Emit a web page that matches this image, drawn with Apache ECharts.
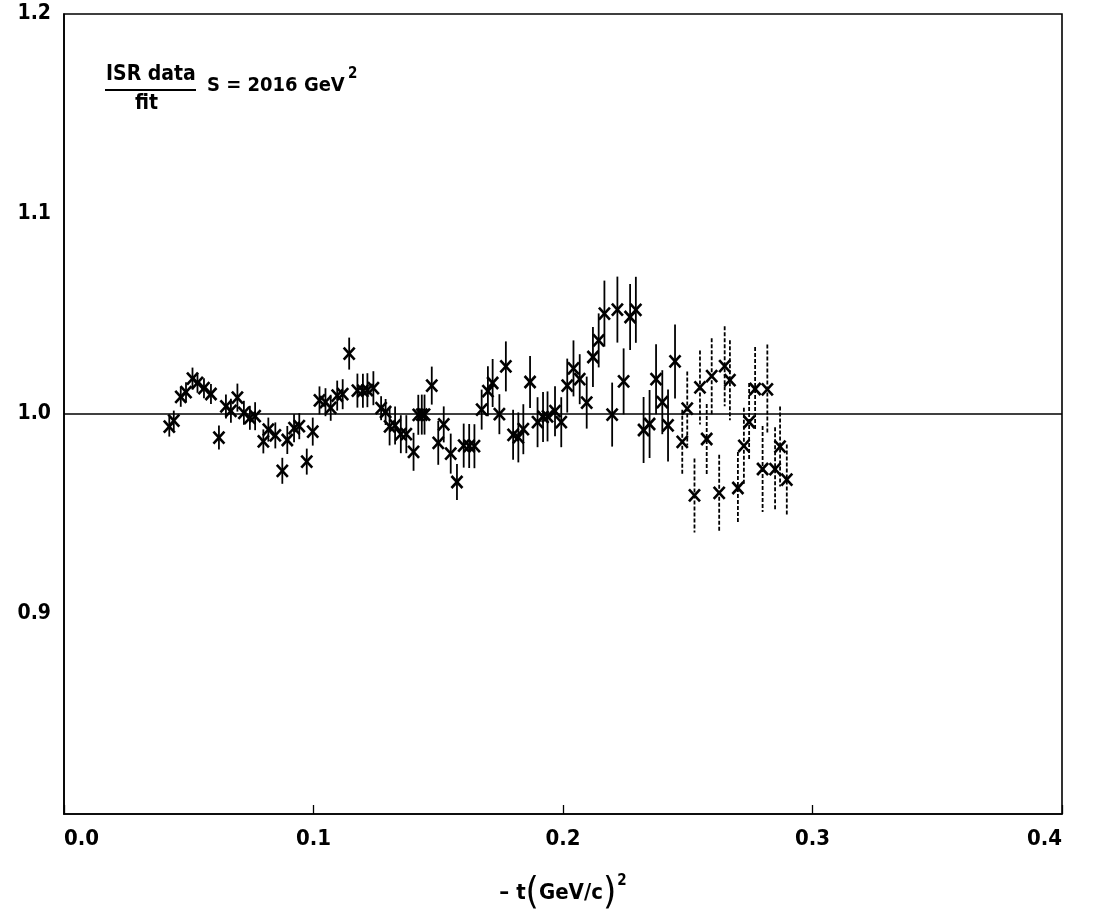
<!DOCTYPE html>
<html><head><meta charset="utf-8">
<script src="https://cdn.jsdelivr.net/npm/echarts@6/dist/echarts.min.js"></script>
<style>html,body{margin:0;padding:0;background:#fff}#c{width:1094px;height:915px}</style>
</head><body><div id="c"></div>
<script>
// -t (GeV/c)^2
const tValues = [
 0.0422,0.0440,0.0468,0.0489,0.0515,0.0535,0.0561,0.0589,0.0621,0.0649,
 0.0669,0.0695,0.0721,0.0745,0.0766,0.0799,0.0819,0.0847,0.0875,0.0895,
 0.0922,0.0943,0.0973,0.0997,0.1024,0.1048,0.1069,0.1095,0.1117,0.1143,
 0.1176,0.1198,0.1216,0.1240,0.1271,0.1289,0.1305,0.1327,0.1350,0.1372,
 0.1401,0.1420,0.1434,0.1445,0.1474,0.1500,0.1522,0.1550,0.1575,0.1602,
 0.1624,0.1645,0.1674,0.1699,0.1718,0.1745,0.1771,0.1800,0.1821,0.1841,
 0.1868,0.1898,0.1920,0.1938,0.1968,0.1993,0.2017,0.2042,0.2067,0.2095,
 0.2120,0.2143,0.2166,0.2197,0.2218,0.2243,0.2269,0.2292,0.2323,0.2347,
 0.2373,0.2398,0.2421,0.2449,0.2478,0.2498,0.2527,0.2549,0.2576,0.2596,
 0.2626,0.2648,0.2669,0.2701,0.2725,0.2746,0.2770,0.2800,0.2819,0.2850,
 0.2870,0.2897
];
// ISR data / fit
const ratioValues = [
 0.9937,0.9967,1.0086,1.0109,1.0177,1.0156,1.0129,1.0100,0.9882,1.0038,
 1.0016,1.0082,1.0006,0.9981,0.9989,0.9863,0.9922,0.9893,0.9716,0.9870,
 0.9929,0.9939,0.9762,0.9912,1.0068,1.0059,1.0031,1.0092,1.0099,1.0302,
 1.0117,1.0116,1.0119,1.0129,1.0029,1.0010,0.9938,0.9943,0.9899,0.9899,
 0.9811,0.9996,0.9997,0.9997,1.0142,0.9856,0.9948,0.9802,0.9660,0.9842,
 0.9840,0.9839,1.0022,1.0114,1.0155,0.9999,1.0238,0.9896,0.9883,0.9924,
 1.0160,0.9959,0.9985,0.9988,1.0014,0.9959,1.0142,1.0228,1.0174,1.0057,
 1.0285,1.0368,1.0502,0.9997,1.0522,1.0163,1.0485,1.0521,0.9920,0.9950,
 1.0174,1.0059,0.9943,1.0263,0.9861,1.0027,0.9593,1.0133,0.9875,1.0189,
 0.9606,1.0239,1.0169,0.9630,0.9841,0.9960,1.0125,0.9725,1.0123,0.9724,
 0.9837,0.9672
];
// half-length of error bars
const errorValues = [
 0.005,0.005,0.005,0.005,0.0055,0.005,0.005,0.005,0.006,0.006,
 0.006,0.007,0.006,0.006,0.007,0.006,0.006,0.0065,0.0065,0.007,
 0.007,0.0065,0.0065,0.007,0.007,0.007,0.0065,0.0075,0.0075,0.008,
 0.0085,0.0085,0.0085,0.0085,0.006,0.0065,0.0095,0.0095,0.0095,0.0095,
 0.0095,0.010,0.010,0.010,0.0095,0.011,0.009,0.010,0.009,0.011,
 0.011,0.011,0.010,0.0125,0.012,0.010,0.0125,0.0125,0.0125,0.0125,
 0.013,0.0125,0.0125,0.0125,0.0125,0.0125,0.0135,0.014,0.0125,0.013,
 0.015,0.0135,0.0165,0.016,0.0165,0.0165,0.0165,0.0165,0.0165,0.017,
 0.0175,0.016,0.018,0.0185,0.016,0.0185,0.0185,0.0185,0.0175,0.019,
 0.019,0.020,0.020,0.018,0.019,0.0195,0.021,0.0215,0.0225,0.021,
 0.020,0.0175
];
const fitT = [0.0, 0.4];
const fitRatio = [1.0, 1.0];
const xTickLabels = ['0.0','0.1','0.2','0.3','0.4'];
const yTickLabels = {'0.9':'0.9','1.0':'1.0','1.1':'1.1','1.2':'1.2'};

const pointData = tValues.map((t, i) => [t, ratioValues[i], errorValues[i]]);
const fitData = fitT.map((t, i) => [t, fitRatio[i]]);

const FONT = '"DejaVu Sans Condensed", "Liberation Sans", Arial, sans-serif';

function renderPoint(params, api) {
  const x = api.value(0), y = api.value(1), e = api.value(2);
  const c = api.coord([x, y]);
  const top = api.coord([x, y + e]);
  const bot = api.coord([x, y - e]);
  const sx = 5.5, sy = 6;
  const dashed = x > 0.245;
  return {
    type: 'group',
    children: [
      {type: 'line', shape: {x1: c[0], y1: top[1], x2: c[0], y2: bot[1]},
       style: {stroke: '#000', lineWidth: 1.8, lineDash: dashed ? [4, 2] : null}},
      {type: 'line', shape: {x1: c[0] - sx, y1: c[1] - sy, x2: c[0] + sx, y2: c[1] + sy},
       style: {stroke: '#000', lineWidth: 2.6}},
      {type: 'line', shape: {x1: c[0] - sx, y1: c[1] + sy, x2: c[0] + sx, y2: c[1] - sy},
       style: {stroke: '#000', lineWidth: 2.6}}
    ]
  };
}

const chart = echarts.init(document.getElementById('c'), null, {renderer: 'canvas'});
chart.setOption({
  backgroundColor: '#fff',
  animation: false,
  grid: {left: 64, right: 32, top: 14, bottom: 101, show: true, borderColor: '#000', borderWidth: 1.6,
         containLabel: false, outerBoundsMode: 'none'},
  xAxis: {
    type: 'value', min: 0, max: 0.4, interval: 0.1,
    axisLine: {show: true, lineStyle: {color: '#000', width: 1.6}},
    axisTick: {show: true, inside: true, length: 9, lineStyle: {color: '#000', width: 1.3}},
    splitLine: {show: false},
    axisLabel: {
      color: '#000', fontFamily: FONT, fontWeight: 'bold', fontSize: 22, margin: 14,
      alignMinLabel: 'left', alignMaxLabel: 'right',
      formatter: v => xTickLabels[Math.round(v * 10)] || ''
    },
    name: '{a|– t}{p|(}{a|GeV/c}{p|)}{s|2}',
    nameLocation: 'middle', nameGap: 60,
    nameTextStyle: {
      rich: {
        a: {fontFamily: FONT, fontWeight: 'bold', fontSize: 22, color: '#000'},
        p: {fontFamily: FONT, fontWeight: 'normal', fontSize: 38, color: '#000'},
        s: {fontFamily: FONT, fontWeight: 'bold', fontSize: 15, color: '#000', verticalAlign: 'top', padding: [0, 0, 22, 1]}
      }
    }
  },
  yAxis: {
    type: 'value', min: 0.8, max: 1.2, interval: 0.1,
    axisLine: {show: true, lineStyle: {color: '#000', width: 1.6}},
    axisTick: {show: false},
    splitLine: {show: false},
    axisLabel: {
      color: '#000', fontFamily: FONT, fontWeight: 'bold', fontSize: 21, margin: 13,
      formatter: v => yTickLabels[v.toFixed(1)] || ''
    }
  },
  graphic: [
    {type: 'text', left: 106, top: 64, style: {text: 'ISR data', font: 'bold 21px ' + FONT, fill: '#000'}},
    {type: 'line', shape: {x1: 105, y1: 90, x2: 196, y2: 90}, style: {stroke: '#000', lineWidth: 2.2}},
    {type: 'text', left: 135, top: 93, style: {text: 'fit', font: 'bold 21px ' + FONT, fill: '#000'}},
    {type: 'text', left: 207, top: 76, style: {text: 'S = 2016 GeV', font: 'bold 20px ' + FONT, fill: '#000'}},
    {type: 'text', left: 348, top: 67, style: {text: '2', font: 'bold 15px ' + FONT, fill: '#000'}}
  ],
  series: [
    {type: 'line', data: fitData, symbol: 'none', lineStyle: {color: '#000', width: 1.6}, z: 1},
    {type: 'custom', data: pointData, renderItem: renderPoint, encode: {x: 0, y: 1}, z: 2}
  ]
});
</script>
</body></html>
